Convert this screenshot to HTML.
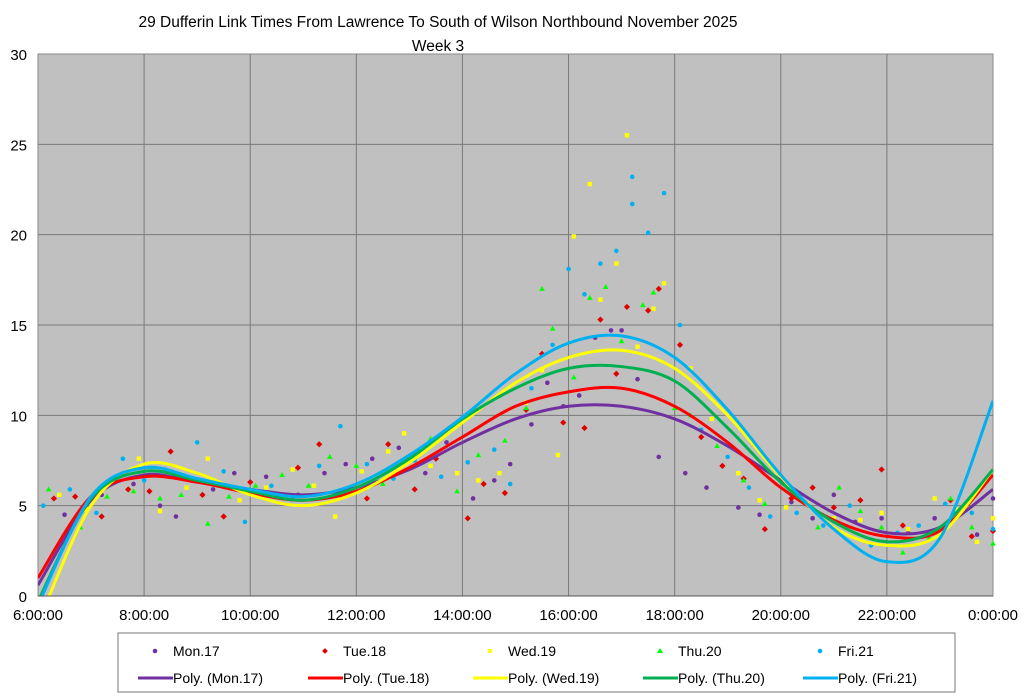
<!DOCTYPE html>
<html><head><meta charset="utf-8"><style>
body{margin:0;background:#fff;width:1024px;height:700px;overflow:hidden;font-family:"Liberation Sans",sans-serif}
svg{display:block}
</style></head><body>
<svg id="chart" width="1024" height="700" font-family="Liberation Sans, sans-serif">
<text x="438" y="27" text-anchor="middle" font-size="15.5">29 Dufferin Link Times From Lawrence To South of Wilson Northbound November 2025</text>
<text x="438" y="51" text-anchor="middle" font-size="15.5">Week 3</text>
<rect x="38" y="54" width="955" height="542" fill="#c0c0c0" stroke="#888"/>
<g id="grid"></g><g id="pts"></g><g id="lines"></g><g id="axes"></g>
<rect x="118" y="633" width="837" height="59" fill="#fff" stroke="#777"/>
<g id="legend"></g>
</svg>
<script>
const yTicks=[0,5,10,15,20,25,30];
const xTickLabels=["6:00:00","8:00:00","10:00:00","12:00:00","14:00:00","16:00:00","18:00:00","20:00:00","22:00:00","0:00:00"];
const seriesNames=["Mon.17","Tue.18","Wed.19","Thu.20","Fri.21"];
const trendHours=[6,7,8,9,10,11,12,13,14,15,16,17,18,19,20,21,22,23,24];
const trendMon=[0.6,5.3,6.7,6.3,5.9,5.6,6.0,7.0,8.5,9.8,10.5,10.5,9.8,8.3,6.4,4.6,3.5,3.8,5.9];
const trendTue=[1.0,5.5,6.6,6.3,5.7,5.3,5.8,7.1,8.8,10.5,11.3,11.5,10.5,8.5,6.0,4.2,3.3,3.6,6.7];
const trendWed=[-1.5,5.0,7.3,6.8,5.6,5.0,5.7,7.4,9.6,11.8,13.2,13.6,12.6,10.0,6.6,3.8,2.8,3.4,7.0];
const trendThu=[-0.3,5.4,6.9,6.4,5.8,5.3,6.0,7.6,9.8,11.5,12.6,12.7,11.9,9.3,6.3,4.1,3.0,3.8,7.0];
const trendFri=[-0.5,5.5,7.1,6.5,5.9,5.5,6.2,7.8,9.9,12.3,14.0,14.4,13.2,10.3,6.7,3.7,1.9,3.2,10.8];
const ptsMon=[[6.5,4.5],[7.2,5.6],[7.8,6.2],[8.3,5.0],[8.6,4.4],[9.3,5.9],[9.7,6.8],[10.3,6.6],[10.9,5.6],[11.4,6.8],[11.8,7.3],[12.3,7.6],[12.8,8.2],[13.3,6.8],[13.7,8.5],[14.2,5.4],[14.6,6.4],[14.9,7.3],[15.3,9.5],[15.6,11.8],[15.9,10.5],[16.2,11.1],[16.5,14.3],[16.8,14.7],[17.0,14.7],[17.3,12.0],[17.7,7.7],[18.2,6.8],[18.6,6.0],[19.2,4.9],[19.6,4.5],[20.2,5.2],[20.6,4.3],[21.0,5.6],[21.4,4.1],[21.9,4.3],[22.4,3.5],[22.9,4.3],[23.3,4.7],[23.7,3.4],[24,5.4]];
const ptsTue=[[6.3,5.4],[6.7,5.5],[7.2,4.4],[7.7,5.9],[8.1,5.8],[8.5,8.0],[9.1,5.6],[9.5,4.4],[10.0,6.3],[10.4,5.6],[10.9,7.1],[11.3,8.4],[11.7,5.6],[12.2,5.4],[12.6,8.4],[13.1,5.9],[13.5,7.6],[14.1,4.3],[14.4,6.2],[14.8,5.7],[15.2,10.3],[15.5,13.4],[15.9,9.6],[16.3,9.3],[16.6,15.3],[16.9,12.3],[17.1,16.0],[17.5,15.8],[17.7,17.0],[18.1,13.9],[18.5,8.8],[18.9,7.2],[19.3,6.5],[19.7,3.7],[20.2,5.4],[20.6,6.0],[21.0,4.9],[21.5,5.3],[21.9,7.0],[22.3,3.9],[22.8,3.5],[23.2,5.3],[23.6,3.3],[24,3.6]];
const ptsWed=[[6.4,5.6],[6.9,4.8],[7.4,6.3],[7.9,7.6],[8.3,4.7],[8.8,6.0],[9.2,7.6],[9.8,5.3],[10.3,6.0],[10.8,7.0],[11.2,6.1],[11.6,4.4],[12.1,6.9],[12.6,8.0],[12.9,9.0],[13.4,7.2],[13.9,6.8],[14.3,6.4],[14.7,6.8],[15.2,10.7],[15.5,12.5],[15.8,7.8],[16.1,19.9],[16.4,22.8],[16.6,16.4],[16.9,18.4],[17.1,25.5],[17.3,13.8],[17.6,15.9],[17.8,17.3],[18.3,12.6],[18.7,9.8],[19.2,6.8],[19.6,5.3],[20.1,4.9],[20.5,5.1],[21.0,4.3],[21.5,4.2],[21.9,4.6],[22.4,3.7],[22.9,5.4],[23.3,4.8],[23.7,3.0],[24,4.3]];
const ptsThu=[[6.2,5.9],[6.8,3.8],[7.3,5.5],[7.8,5.8],[8.3,5.4],[8.7,5.6],[9.2,4.0],[9.6,5.5],[10.1,6.1],[10.6,6.7],[11.1,6.1],[11.5,7.7],[12.0,7.2],[12.5,6.2],[12.9,7.4],[13.4,8.7],[13.9,5.8],[14.3,7.8],[14.8,8.6],[15.2,10.4],[15.5,17.0],[15.7,14.8],[16.1,12.1],[16.4,16.5],[16.7,17.1],[17.0,14.1],[17.4,16.1],[17.6,16.8],[18.0,10.4],[18.3,10.0],[18.8,8.3],[19.3,6.4],[19.7,5.1],[20.2,5.7],[20.7,3.8],[21.1,6.0],[21.5,4.7],[21.9,3.8],[22.3,2.4],[22.8,3.2],[23.2,5.4],[23.6,3.8],[24,2.9]];
const ptsFri=[[6.1,5.0],[6.6,5.9],[7.1,4.6],[7.6,7.6],[8.0,6.4],[8.4,7.0],[9.0,8.5],[9.5,6.9],[9.9,4.1],[10.4,6.1],[10.8,5.4],[11.3,7.2],[11.7,9.4],[12.2,7.3],[12.7,6.5],[13.1,7.5],[13.6,6.6],[14.1,7.4],[14.6,8.1],[14.9,6.2],[15.3,11.5],[15.7,13.9],[16.0,18.1],[16.3,16.7],[16.6,18.4],[16.9,19.1],[17.2,21.7],[17.2,23.2],[17.5,20.1],[17.8,22.3],[18.1,15.0],[18.5,9.2],[19.0,7.7],[19.4,6.0],[19.8,4.4],[20.3,4.6],[20.8,3.9],[21.3,5.0],[21.7,2.8],[22.2,3.5],[22.6,3.9],[23.1,5.1],[23.6,4.6],[24,3.7]];
const colorsPt=["#7030A0","#E00000","#FFFF00","#00FF00","#00B0F0"];
const colorsLine=["#7030A0","#FF0000","#FFFF00","#00B050","#00B0F0"];
const trends=[trendMon,trendTue,trendWed,trendThu,trendFri];
const pts=[ptsMon,ptsTue,ptsWed,ptsThu,ptsFri];
const NS="http://www.w3.org/2000/svg";
const X=h=>38+(h-6)*955/18, Y=v=>596-v*542/30;
function mk(t,a,p){const e=document.createElementNS(NS,t);for(const k in a)e.setAttribute(k,a[k]);p.appendChild(e);return e;}
const grid=document.getElementById('grid'),axes=document.getElementById('axes');
yTicks.forEach(v=>{if(v>0&&v<30){const l=mk('line',{x1:38,x2:993,y1:Y(v),y2:Y(v),stroke:'#7a7a7a'},grid);

}
const t=mk('text',{x:27,y:Y(v)+6,'text-anchor':'end','font-size':15},axes);t.textContent=v;

});
xTickLabels.forEach((s,i)=>{const x=X(6+2*i);if(i>0&&i<9){const l=mk('line',{x1:x,x2:x,y1:54,y2:596,stroke:'#7a7a7a'},grid);

}
const t=mk('text',{x:x,y:620,'text-anchor':'middle','font-size':15},axes);t.textContent=s;

});
mk('line',{x1:38,x2:993,y1:596,y2:596,stroke:'#555'},axes);
const pg=document.getElementById('pts');
pts.forEach((arr,si)=>arr.forEach(p=>{const x=X(p[0]),y=Y(p[1]);let e;
if(si==0||si==4)e=mk('circle',{cx:x,cy:y,r:2.3,fill:colorsPt[si]},pg);
else if(si==1)e=mk('rect',{x:x-2.2,y:y-2.2,width:4.4,height:4.4,fill:colorsPt[si],transform:`rotate(45 ${x} ${y})`},pg);
else if(si==2)e=mk('rect',{x:x-2.2,y:y-2.2,width:4.4,height:4.4,fill:colorsPt[si]},pg);
else e=mk('polygon',{points:`${x},${y-3} ${x-2.8},${y+2} ${x+2.8},${y+2}`,fill:colorsPt[si]},pg);

}));
const lg=document.getElementById('lines');
const cp=mk('clipPath',{id:'clp'},lg);mk('rect',{x:38,y:54,width:955,height:542},cp);
trends.forEach((tr,si)=>{const P=trendHours.map((h,i)=>[X(h),Y(tr[i])]);let d=`M${P[0][0]},${P[0][1]}`;
for(let i=0;i<P.length-1;i++){const p0=P[i-1]||P[i],p1=P[i],p2=P[i+1],p3=P[i+2]||P[i+1];
d+=` C${p1[0]+(p2[0]-p0[0])/6},${p1[1]+(p2[1]-p0[1])/6} ${p2[0]-(p3[0]-p1[0])/6},${p2[1]-(p3[1]-p1[1])/6} ${p2[0]},${p2[1]}`;}
const e=mk('path',{d:d,fill:'none',stroke:colorsLine[si],'stroke-width':3,'clip-path':'url(#clp)'},lg);

});
const lgd=document.getElementById('legend');const cols=[130,300,465,635,795];
seriesNames.forEach((n,i)=>{const x=cols[i];let m;
if(i==0||i==4)m=mk('circle',{cx:x+25,cy:651,r:2.3,fill:colorsPt[i]},lgd);
else if(i==3)m=mk('polygon',{points:`${x+25},648 ${x+22},653 ${x+28},653`,fill:colorsPt[i]},lgd);
else if(i==1)m=mk('rect',{x:x+23,y:649,width:4,height:4,fill:colorsPt[i],transform:`rotate(45 ${x+25} 651)`},lgd);
else m=mk('rect',{x:x+23,y:649,width:4,height:4,fill:colorsPt[i]},lgd);


const t=mk('text',{x:x+43,y:656,'font-size':14},lgd);t.textContent=n;


const l=mk('line',{x1:x+8,x2:x+43,y1:678,y2:678,stroke:colorsLine[i],'stroke-width':3},lgd);


const t2=mk('text',{x:x+43,y:683,'font-size':14},lgd);t2.textContent='Poly. ('+n+')';

});
</script>
</body></html>
